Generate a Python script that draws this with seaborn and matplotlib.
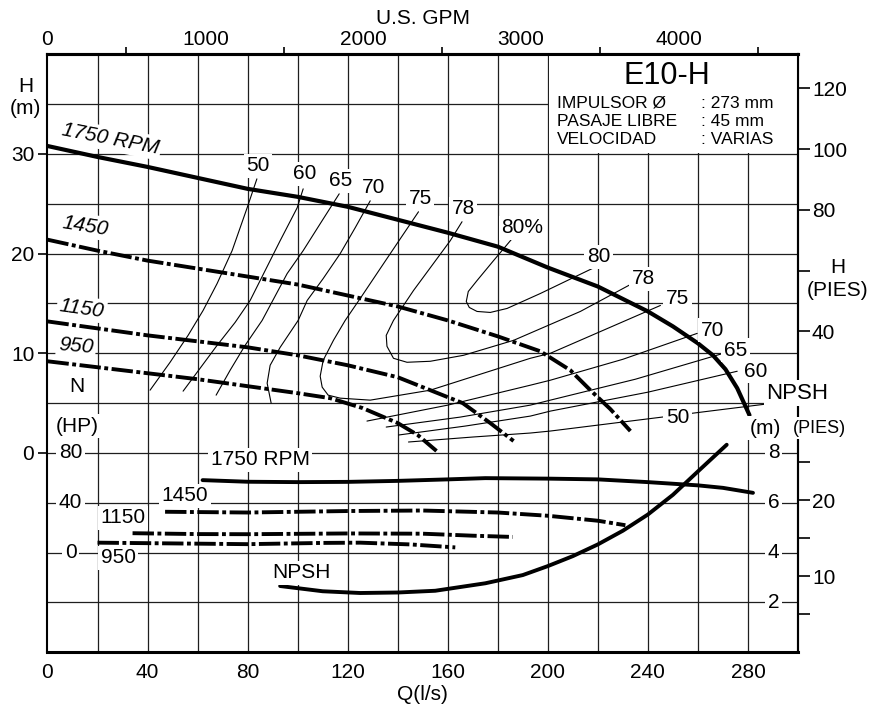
import numpy as np
import matplotlib
matplotlib.use("Agg")
import matplotlib.pyplot as plt
import seaborn as sns
from matplotlib.patches import Rectangle

# ---------------- data (Q in l/s, H in m, N in HP, NPSH in m) ----------------
q_1750 = [0, 20, 40, 60, 80, 100, 120, 140, 160, 180, 200, 220, 240, 250, 260, 266, 271, 275.7, 280.6]
h_1750 = [30.8, 29.7, 28.7, 27.6, 26.5, 25.7, 24.7, 23.4, 22.1, 20.7, 18.6, 16.7, 14.2, 12.7, 11.0, 9.8, 8.4, 6.5, 3.8]
q_1450 = [0, 20, 40, 60, 80, 100, 120, 140, 160, 180, 197, 209, 217, 225, 233]
h_1450 = [21.4, 20.3, 19.3, 18.5, 17.7, 16.9, 15.8, 14.7, 13.3, 11.7, 10.2, 8.3, 6.3, 4.4, 2.2]
q_1150 = [0, 20, 40, 60, 80, 100, 120, 140, 153, 166, 177, 186.3]
h_1150 = [13.2, 12.5, 11.8, 11.2, 10.6, 9.8, 8.8, 7.6, 6.3, 5.0, 3.0, 1.2]
q_950 = [0, 20, 40, 60, 80, 100, 113, 126, 140, 148, 155.5]
h_950 = [9.2, 8.6, 8.0, 7.4, 6.7, 6.0, 5.5, 4.5, 3.0, 1.8, 0.2]

pq_1750 = [62, 80, 100, 120, 140, 160, 175, 200, 220, 240, 260, 270, 282]
p_1750 = [58.2, 56.9, 56.6, 56.8, 57.6, 58.8, 59.8, 59.4, 58.8, 56.6, 54.0, 52.0, 48.0]
pq_1450 = [47, 80, 120, 150, 180, 200, 220, 231]
p_1450 = [32.8, 32.2, 33.4, 33.8, 32.2, 29.6, 25.6, 22.0]
pq_1150 = [34, 60, 80, 120, 150, 170, 186]
p_1150 = [15.6, 14.9, 14.8, 15.4, 15.2, 13.6, 12.6]
pq_950 = [20, 50, 80, 110, 125, 145, 163]
p_950 = [8.0, 7.4, 6.8, 7.8, 8.0, 6.6, 4.2]

npsh_q = [93, 110, 125, 140, 155, 175, 190, 200, 210, 220, 230, 240, 250, 260, 271.5]
npsh_m = [2.66, 2.45, 2.38, 2.40, 2.47, 2.77, 3.1, 3.46, 3.86, 4.33, 4.88, 5.53, 6.32, 7.26, 8.33]

# efficiency iso-lines (branches)
eff_80_q = [185.7, 178.3, 171.7, 168.2, 167.4, 168.6, 171.7, 177, 183.7, 197, 217.7]
eff_80_h = [21.5, 19.3, 17.3, 16.2, 15.2, 14.6, 14.2, 14.1, 14.5, 16.0, 18.5]
eff_78_q = [165.7, 161, 146.3, 138.3, 135.4, 135.7, 138.3, 143.7, 153, 166.3, 186.3, 213, 233]
eff_78_h = [23.2, 21.3, 16.3, 13.3, 11.8, 10.7, 9.5, 9.1, 9.2, 9.8, 11.3, 14.2, 16.9]
eff_75_q = [148.3, 140.5, 133, 125.8, 119, 114.3, 110.2, 109, 109.8, 112.2, 117, 129, 153, 193, 201, 245]
eff_75_h = [24.2, 21.3, 18.5, 15.8, 13.3, 11.3, 9.3, 7.7, 6.6, 5.8, 5.5, 5.3, 6.3, 9.5, 10.0, 14.8]
eff_70l_q = [129, 123, 117, 110.2, 103.8, 100.2, 93, 89, 87.8, 89.4]
eff_70l_h = [25.3, 22.6, 20.0, 17.5, 15.3, 13.3, 10.6, 8.8, 7.0, 5.0]
eff_70r_q = [127.7, 160, 193, 201, 230, 259.7]
eff_70r_h = [3.2, 4.8, 6.8, 7.3, 9.4, 12.0]
eff_65l_q = [116.6, 109, 102.2, 95.8, 85.8, 79, 73, 67.4]
eff_65l_h = [26.0, 23.0, 20.3, 18.0, 13.3, 10.8, 8.3, 5.8]
eff_65r_q = [135.4, 165, 193, 201, 235, 270.2]
eff_65r_h = [2.6, 3.6, 4.8, 5.3, 7.4, 10.0]
eff_60l_q = [102.2, 99.8, 93, 87, 81, 75, 67.8, 61, 54.2]
eff_60l_h = [26.5, 24.6, 21.3, 18.3, 15.3, 13.1, 10.8, 8.5, 6.2]
eff_60r_q = [140.3, 167, 193, 201, 240, 275.7]
eff_60r_h = [1.8, 2.7, 3.7, 4.2, 6.1, 8.2]
eff_50l_q = [83.7, 79.8, 73.8, 67.8, 62.2, 56.2, 49, 41]
eff_50l_h = [27.5, 24.6, 20.3, 17.0, 14.3, 11.8, 9.1, 6.3]
eff_50r_q = [144.3, 170, 193, 201, 245.7, 258.2, 287]
eff_50r_h = [1.1, 1.6, 2.0, 2.2, 3.6, 4.0, 4.9]

gpm_major = [0, 1000, 2000, 3000, 4000]
gpm_minor = [500, 1500, 2500, 3500, 4500]
ft_head = [40, 60, 80, 100, 120]
ft_head_lbl = ["40", "", "80", "100", "120"]
ft_npsh = [5, 10, 15, 20, 25]
ft_npsh_lbl = ["", "10", "", "20", ""]
hp_ticks = [80, 40, 0]
npsh_ticks = [8, 6, 4, 2]

# ---------------- unit mappings onto the shared H (m) scale ----------------
def hp2h(v):
    return np.asarray(v, float) / 8.0 - 10.0

def npsh2h(v):
    return 2.5 * np.asarray(v, float) - 20.0

FT = 0.3048

sns.set_style("white")
plt.rcParams["font.family"] = ["Liberation Sans", "DejaVu Sans"]
for k in ["text.color", "axes.labelcolor", "xtick.color", "ytick.color", "axes.edgecolor"]:
    plt.rcParams[k] = "black"

fig = plt.figure(figsize=(8.73, 7.13), dpi=100)
ax = fig.add_axes([0.05441, 0.08513, 0.85968, 0.83871])
ax.set_xlim(0, 300)
ax.set_ylim(-20, 40)

# grid
gcol = "#1e1e1e"
ax.vlines(np.arange(20, 300, 20), -20, 40, color=gcol, lw=0.9, zorder=1)
ax.hlines(np.arange(-15, 40, 5), 0, 300, color=gcol, lw=0.9, zorder=1)
ax.add_patch(Rectangle((200.35, 30.12), 99.65, 9.88, fc="white", ec="none", zorder=1.1))

dd = (0, (5.5, 0.9, 1.0, 0.9))
K = "black"

def line(x, y, lw, ls="-", z=3):
    sns.lineplot(x=np.asarray(x, float), y=np.asarray(y, float), ax=ax, color=K,
                 lw=lw, linestyle=ls, sort=False, estimator=None, zorder=z)

# head curves
line(q_1750, h_1750, 3.0)
line(q_1450, h_1450, 2.8, dd)
line(q_1150, h_1150, 2.8, dd)
line(q_950, h_950, 2.8, dd)
# power curves
line(pq_1750, hp2h(p_1750), 2.8)
line(pq_1450, hp2h(p_1450), 2.8, dd)
line(pq_1150, hp2h(p_1150), 2.8, dd)
line(pq_950, hp2h(p_950), 2.8, dd)
# NPSH
line(npsh_q, npsh2h(npsh_m), 2.8)
# efficiency
for qq, hh in [(eff_80_q, eff_80_h), (eff_78_q, eff_78_h), (eff_75_q, eff_75_h),
               (eff_70l_q, eff_70l_h), (eff_70r_q, eff_70r_h),
               (eff_65l_q, eff_65l_h), (eff_65r_q, eff_65r_h),
               (eff_60l_q, eff_60l_h), (eff_60r_q, eff_60r_h),
               (eff_50l_q, eff_50l_h), (eff_50r_q, eff_50r_h)]:
    line(qq, hh, 0.8, z=2)

ax.set_xlabel("")
ax.set_ylabel("")

W = dict(boxstyle="square,pad=0.12", fc="white", ec="none")
FS = 15

def lab(x, y, s, fs=FS, rot=0, style="normal", ha="center", va="center", box=True, z=6):
    ax.text(x, y, s, fontsize=fs, rotation=rot, style=style, ha=ha, va=va,
            bbox=W if box else None, zorder=z, clip_on=False, rotation_mode="anchor")

# efficiency labels
for (x, y, s) in [(84.2, 28.8, "50"), (103, 28.0, "60"), (117, 27.3, "65"), (130.2, 26.6, "70"),
                  (149, 25.5, "75"), (166.2, 24.5, "78"), (189.8, 22.6, "80%"),
                  (220.2, 19.7, "80"), (238.2, 17.5, "78"), (251.8, 15.5, "75"),
                  (265.8, 12.3, "70"), (275, 10.3, "65"), (283, 8.2, "60"), (251.8, 3.6, "50")]:
    lab(x, y, s)

# speed labels on head curves
lab(25, 31.5, "1750 RPM", rot=-11, style="italic")
lab(15, 22.8, "1450", rot=-9, style="italic")
lab(13.7, 14.5, "1150", rot=-8, style="italic")
lab(11.4, 10.7, "950", rot=-5, style="italic")

# speed labels on power curves
lab(85, -0.7, "1750 RPM")
lab(55, -4.3, "1450")
lab(30.3, -6.5, "1150")
lab(28.3, -10.5, "950")
lab(101.7, -12.0, "NPSH")

# inner scales
for v in hp_ticks:
    lab(9.2, float(hp2h(v)), str(v))
for v in npsh_ticks:
    lab(290.3, float(npsh2h(v)), str(v))
lab(11.8, 6.7, "N")
lab(11.8, 2.7, "(HP)")

# right-side labels
lab(299.7, 6.0, "NPSH", fs=16)
lab(287.0, 2.5, "(m)")
lab(308.4, 2.5, "(PIES)", fs=13)
lab(315.8, 18.6, "H", box=False)
lab(315.8, 16.3, "(PIES)", box=False)
# left label
lab(-8.7, 36.75, "H", box=False)
lab(-8.7, 34.6, "(m)", box=False)

# info box
ax.text(247.7, 37.8, "E10-H", fontsize=22, ha="center", va="center", zorder=6)
for yy, a, b in [(35.1, "IMPULSOR Ø", ": 273 mm"), (33.3, "PASAJE LIBRE", ": 45 mm"),
                 (31.45, "VELOCIDAD", ": VARIAS")]:
    ax.text(203.6, yy, a, fontsize=12.5, ha="left", va="center", zorder=6)
    ax.text(261.3, yy, b, fontsize=12.5, ha="left", va="center", zorder=6)

# axes / ticks
ax.set_xticks(range(0, 281, 40))
ax.set_yticks([0, 10, 20, 30])
ax.tick_params(axis="x", length=0, pad=8, labelsize=FS, top=False, colors="black")
ax.tick_params(axis="y", length=6.5, width=1.2, pad=3, labelsize=FS, right=False, left=True,
               direction="out", colors="black")
ax.set_xlabel("Q(l/s)", fontsize=FS, labelpad=2, color="black")
for s in ["left", "right"]:
    ax.spines[s].set_linewidth(1.5)
for s in ["top", "bottom"]:
    ax.spines[s].set_linewidth(2.2)
for s in ax.spines.values():
    s.set_color("black")

sec = ax.secondary_xaxis("top", functions=(lambda q: q * 15.850323, lambda g: g / 15.850323))
sec.set_xticks(gpm_major)
sec.set_xticks(gpm_minor, minor=True)
sec.tick_params(which="major", length=0, pad=4, labelsize=FS, colors="black")
sec.tick_params(which="minor", length=5, width=1.2, direction="out", colors="black")
sec.set_xlabel("U.S. GPM", fontsize=FS, labelpad=4, color="black")
sec.spines["top"].set_linewidth(2.2)
sec.spines["top"].set_color("black")

secy = ax.secondary_yaxis("right", functions=(lambda y: y, lambda y: y))
pos = [f * FT for f in ft_head] + [float(npsh2h(f * FT)) for f in ft_npsh]
secy.set_yticks(pos, ft_head_lbl + ft_npsh_lbl)
secy.tick_params(length=8.5, width=1.2, pad=1.5, labelsize=FS, direction="out", colors="black")
secy.spines["right"].set_linewidth(1.5)
secy.spines["right"].set_color("black")

fig.savefig("out.png", dpi=100, facecolor="white")
